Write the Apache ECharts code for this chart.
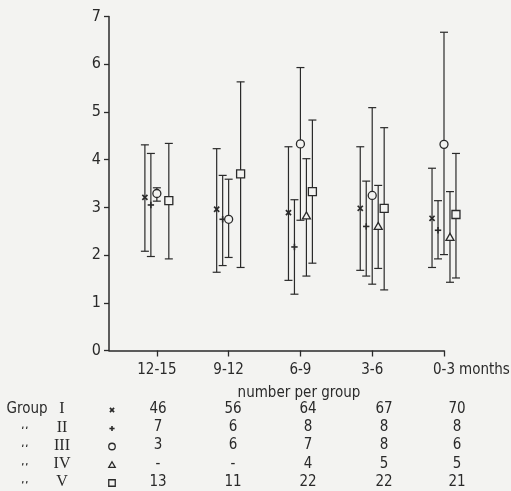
<!DOCTYPE html>
<html><head><meta charset="utf-8">
<script src="https://cdn.jsdelivr.net/npm/echarts@6/dist/echarts.min.js"></script>
<style>html,body{margin:0;padding:0;background:#f3f3f1}#c{width:511px;height:491px}</style>
</head><body><div id="c"></div>
<script>
const categories = ['12-15', '9-12', '6-9', '3-6', '0-3'];
const yTicks = [0, 1, 2, 3, 4, 5, 6, 7];
const groupNames = ['I', 'II', 'III', 'IV', 'V'];
const groupMarkers = ['cross', 'plus', 'circle', 'triangle', 'square'];

const groupI_mean = [3.21, 2.96, 2.89, 2.98, 2.77];
const groupI_low  = [2.08, 1.64, 1.47, 1.68, 1.74];
const groupI_high = [4.31, 4.23, 4.27, 4.27, 3.82];
const groupII_mean = [3.05, 2.75, 2.17, 2.60, 2.52];
const groupII_low  = [1.97, 1.78, 1.18, 1.56, 1.92];
const groupII_high = [4.13, 3.67, 3.16, 3.55, 3.14];
const groupIII_mean = [3.29, 2.75, 4.33, 3.25, 4.32];
const groupIII_low  = [3.13, 1.95, 2.73, 1.39, 2.01];
const groupIII_high = [3.41, 3.59, 5.93, 5.09, 6.67];
const groupIV_mean = [null, null, 2.82, 2.60, 2.37];
const groupIV_low  = [null, null, 1.56, 1.72, 1.43];
const groupIV_high = [null, null, 4.02, 3.46, 3.33];
const groupV_mean = [3.14, 3.70, 3.33, 2.98, 2.85];
const groupV_low  = [1.92, 1.74, 1.83, 1.27, 1.52];
const groupV_high = [4.34, 5.63, 4.83, 4.67, 4.13];

const countsI   = ['46', '56', '64', '67', '70'];
const countsII  = ['7', '6', '8', '8', '8'];
const countsIII = ['3', '6', '7', '8', '6'];
const countsIV  = ['-', '-', '4', '5', '5'];
const countsV   = ['13', '11', '22', '22', '21'];

const means = [groupI_mean, groupII_mean, groupIII_mean, groupIV_mean, groupV_mean];
const lows = [groupI_low, groupII_low, groupIII_low, groupIV_low, groupV_low];
const highs = [groupI_high, groupII_high, groupIII_high, groupIV_high, groupV_high];
const counts = [countsI, countsII, countsIII, countsIV, countsV];

const BG = '#f3f3f1';
const INK = '#2a2a2a';
const SANS = 'DejaVu Sans Condensed';

function marker(type, x, y, s) {
  const st = {stroke: INK, lineWidth: 1.3, fill: BG};
  switch (type) {
    case 'cross': {
      const h = s * 0.32;
      return {type: 'group', children: [
        {type: 'line', shape: {x1: x - h, y1: y - h, x2: x + h, y2: y + h}, style: {stroke: INK, lineWidth: 1.7}},
        {type: 'line', shape: {x1: x - h, y1: y + h, x2: x + h, y2: y - h}, style: {stroke: INK, lineWidth: 1.7}}
      ]};
    }
    case 'plus': {
      const h = s * 0.4;
      return {type: 'group', children: [
        {type: 'line', shape: {x1: x - h, y1: y, x2: x + h, y2: y}, style: {stroke: INK, lineWidth: 1.6}},
        {type: 'line', shape: {x1: x, y1: y - h, x2: x, y2: y + h}, style: {stroke: INK, lineWidth: 1.6}}
      ]};
    }
    case 'circle':
      return {type: 'circle', shape: {cx: x, cy: y, r: s / 2}, style: st};
    case 'triangle': {
      const h = s / 2;
      return {type: 'polygon', shape: {points: [[x, y - h], [x + h, y + h * 0.75], [x - h, y + h * 0.75]]}, style: st};
    }
    default: {
      const h = s / 2;
      return {type: 'rect', shape: {x: x - h, y: y - h, width: s, height: s}, style: st};
    }
  }
}

function makeSeries(g) {
  const offset = (g - 2) / 12;
  const data = [];
  categories.forEach((c, k) => {
    if (means[g][k] != null) data.push([k + 1 + offset, lows[g][k], means[g][k], highs[g][k]]);
  });
  return {
    type: 'custom',
    name: 'Group ' + groupNames[g],
    data: data,
    encode: {x: 0, y: [1, 2, 3]},
    z: 10 + g,
    renderItem: function (params, api) {
      const xv = api.value(0);
      const pLo = api.coord([xv, api.value(1)]);
      const pM = api.coord([xv, api.value(2)]);
      const pHi = api.coord([xv, api.value(3)]);
      const cw = 4;
      const ls = {stroke: INK, lineWidth: 1.2};
      return {type: 'group', children: [
        {type: 'line', shape: {x1: pLo[0], y1: pLo[1], x2: pHi[0], y2: pHi[1]}, style: ls},
        {type: 'line', shape: {x1: pLo[0] - cw, y1: pLo[1], x2: pLo[0] + cw, y2: pLo[1]}, style: ls},
        {type: 'line', shape: {x1: pHi[0] - cw, y1: pHi[1], x2: pHi[0] + cw, y2: pHi[1]}, style: ls},
        marker(groupMarkers[g], pM[0], pM[1], 8)
      ]};
    }
  };
}

const tableFont = {fontFamily: SANS, fontSize: 15, fill: INK};
const graphics = [];
graphics.push({type: 'text', x: 459, y: 370, style: {text: 'months', fontFamily: SANS, fontSize: 15, fill: INK, verticalAlign: 'middle', align: 'left'}});
graphics.push({type: 'text', x: 299, y: 393, style: Object.assign({text: 'number per group', align: 'center', verticalAlign: 'middle'}, tableFont)});
const rowY = [409, 427.5, 445.5, 464, 482];
const colX = [158, 233, 308, 384, 457];
groupNames.forEach((gname, g) => {
  const y = rowY[g];
  if (g === 0) {
    graphics.push({type: 'text', x: 27, y: y, style: Object.assign({text: 'Group', align: 'center', verticalAlign: 'middle'}, tableFont)});
  } else {
    [22.5, 26.5].forEach(dx => {
      graphics.push({type: 'line', shape: {x1: dx + 0.5, y1: y - 1, x2: dx, y2: y + 1.5}, style: {stroke: INK, lineWidth: 1.2}});
    });
  }
  graphics.push({type: 'text', x: 62, y: y, style: {text: gname, fontFamily: 'Liberation Serif', fontSize: 16, fill: INK, align: 'center', verticalAlign: 'middle'}});
  graphics.push(marker(groupMarkers[g], 112, y + 1, 6.5));
  counts[g].forEach((c, k) => {
    graphics.push({type: 'text', x: colX[k], y: y, style: Object.assign({text: c, align: 'center', verticalAlign: 'middle'}, tableFont)});
  });
});

const chart = echarts.init(document.getElementById('c'), null, {renderer: 'canvas'});
chart.setOption({
  backgroundColor: BG,
  animation: false,
  grid: {left: 109, right: 67, top: 16.5, bottom: 140.5},
  xAxis: {
    type: 'value', min: 1 / 3, max: 5,
    axisLine: {show: true, lineStyle: {color: INK, width: 1.5}},
    axisTick: {show: true, customValues: [1, 2, 3, 4, 5], length: 6, lineStyle: {color: INK, width: 1.3}},
    axisLabel: {customValues: [1, 2, 3, 4, 5], formatter: v => categories[Math.round(v) - 1],
      fontFamily: SANS, fontSize: 15, color: INK, margin: 12},
    splitLine: {show: false}
  },
  yAxis: {
    type: 'value', min: 0, max: 7, interval: 1,
    axisLine: {show: true, lineStyle: {color: INK, width: 1.5}},
    axisTick: {show: true, length: 5, lineStyle: {color: INK, width: 1.3}},
    axisLabel: {formatter: v => String(v), fontFamily: SANS, fontSize: 16, color: INK, margin: 8},
    splitLine: {show: false}
  },
  series: groupNames.map((n, g) => makeSeries(g)),
  graphic: graphics
});
</script></body></html>
